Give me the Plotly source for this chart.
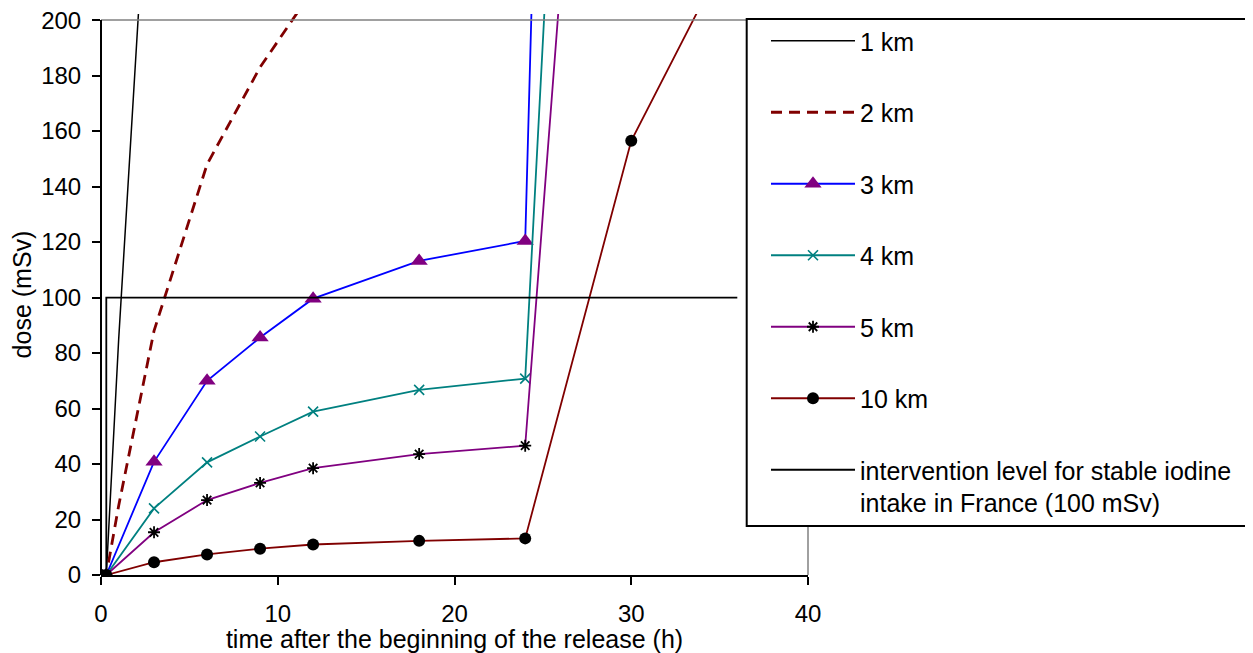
import plotly.graph_objects as go

# ---------------- data ----------------
t_1km = [0, 0.3, 1, 3]
dose_1km = [0, 0, 85, 295]

t_2km = [0, 0.3, 1, 3, 6, 9, 12]
dose_2km = [0, 0, 25, 88, 148, 183, 211]

t_std = [0, 0.3, 3, 6, 9, 12, 18, 24, 30]
dose_3km = [0, 0, 40.8, 70.0, 85.6, 99.6, 113.2, 120.4, 1520]
dose_4km = [0, 0, 24.0, 40.6, 49.9, 58.9, 66.7, 70.8, 800]
dose_5km = [0, 0, 15.4, 27.0, 33.2, 38.5, 43.6, 46.6, 547]

t_10km = [0, 0.3, 3, 6, 9, 12, 18, 24, 30, 36]
dose_10km = [0, 0, 4.6, 7.4, 9.5, 11.0, 12.3, 13.2, 156.5, 231]

t_level = [0.3, 0.3, 36]
dose_level = [0, 100, 100]

x_ticks = [0, 10, 20, 30, 40]
y_ticks = [0, 20, 40, 60, 80, 100, 120, 140, 160, 180, 200]

X_MAX = 40
Y_TOP = 200
Y_RANGE_MAX = 202.2

FONT = "Liberation Sans, Arial, sans-serif"

fig = go.Figure()

fig.add_trace(go.Scatter(x=t_1km, y=dose_1km, name="1 km", mode="lines",
                         line=dict(color="#000000", width=1.5), legendgroup="a"))
fig.add_trace(go.Scatter(x=t_2km, y=dose_2km, name="2 km", mode="lines",
                         line=dict(color="#800000", width=2.8, dash="11px,7px"), legendgroup="b"))
fig.add_trace(go.Scatter(x=t_std, y=dose_3km, name="3 km", mode="lines+markers",
                         line=dict(color="#0000FF", width=1.8),
                         marker=dict(symbol="triangle-up", size=15, color="#800080"),
                         legendgroup="c"))
fig.add_trace(go.Scatter(x=t_std, y=dose_4km, name="4 km", mode="lines+markers",
                         line=dict(color="#008080", width=1.8),
                         marker=dict(symbol="x-thin-open", size=10, color="#008080",
                                     line=dict(color="#008080", width=1.6)),
                         legendgroup="d"))
fig.add_trace(go.Scatter(x=t_std, y=dose_5km, name="5 km", mode="lines+markers",
                         line=dict(color="#800080", width=1.8),
                         marker=dict(symbol="asterisk-open", size=10, color="#000000",
                                     line=dict(color="#000000", width=1.8)),
                         legendgroup="e"))
fig.add_trace(go.Scatter(x=t_10km, y=dose_10km, name="10 km", mode="lines+markers",
                         line=dict(color="#800000", width=1.8),
                         marker=dict(symbol="circle", size=12, color="#000000"),
                         legendgroup="f"))
fig.add_trace(go.Scatter(x=t_level, y=dose_level,
                         name="intervention level for stable iodine<br>intake in France (100 mSv)",
                         mode="lines", line=dict(color="#000000", width=1.8),
                         legendgroup="g"))

# the page places the figure 8px from the top-left corner
OFF = 8
W, H = 1253 - OFF, 653 - OFF
L, T = 101 - OFF, 14 - OFF
R = W - (808 - OFF)
B = H - (575 - OFF)
plot_w = W - L - R
plot_h = H - T - B

legend_box_left = (746.7 - 101) / plot_w
legend_box_bottom = (575 - 526) / plot_h
legend_box_top = (575 - 19) / plot_h
y_top_paper = Y_TOP / Y_RANGE_MAX

shapes = [
    # grey plot border (top and right)
    dict(type="line", xref="paper", yref="paper", x0=0, x1=2.0,
         y0=y_top_paper, y1=y_top_paper, line=dict(color="#808080", width=1.5)),
    dict(type="line", xref="paper", yref="paper", x0=1, x1=1,
         y0=0, y1=y_top_paper, line=dict(color="#808080", width=1.5)),
    # black y-axis line up to 200
    dict(type="line", xref="paper", yref="paper", x0=0, x1=0,
         y0=0, y1=y_top_paper, line=dict(color="#000000", width=2)),
    # legend frame
    dict(type="rect", xref="paper", yref="paper", x0=legend_box_left, x1=2.0,
         y0=legend_box_bottom, y1=legend_box_top, fillcolor="#FFFFFF",
         line=dict(color="#000000", width=2)),
]

fig.update_layout(
    width=W, height=H,
    margin=dict(l=L, r=R, t=T, b=B, autoexpand=False),
    paper_bgcolor="#FFFFFF", plot_bgcolor="#FFFFFF",
    font=dict(family=FONT, size=24, color="#000000"),
    showlegend=True,
    legend=dict(
        x=(766 - 101) / plot_w, xanchor="left",
        y=(575 - 18) / plot_h, yanchor="top",
        bgcolor="rgba(0,0,0,0)", borderwidth=0,
        font=dict(family=FONT, size=25, color="#000000"),
        traceorder="grouped", tracegroupgap=36,
        itemwidth=84, valign="top",
    ),
    shapes=shapes,
    xaxis=dict(
        range=[0, X_MAX], tickvals=x_ticks, ticktext=[str(v) for v in x_ticks],
        ticks="outside", ticklen=8, tickwidth=2, tickcolor="#000000",
        showline=True, linecolor="#000000", linewidth=2,
        showgrid=False, zeroline=False, ticklabelstandoff=8,
        ticklabeloverflow="allow",
        title=dict(text="time after the beginning of the release (h)",
                   font=dict(family=FONT, size=25), standoff=0),
    ),
    yaxis=dict(
        range=[0, Y_RANGE_MAX], tickvals=y_ticks, ticktext=[str(v) for v in y_ticks],
        ticks="outside", ticklen=8, tickwidth=2, tickcolor="#000000",
        showline=False, showgrid=False, zeroline=False, ticklabelstandoff=6,
        ticklabeloverflow="allow",
        title=dict(text="dose (mSv)", font=dict(family=FONT, size=25), standoff=5),
    ),
    xaxis2=dict(
        overlaying="x", anchor="y", side="bottom", range=[0, X_MAX], tickvals=x_ticks,
        ticks="inside", ticklen=8, tickwidth=2, tickcolor="#000000",
        showticklabels=False, showline=False, showgrid=False, zeroline=False,
    ),
    yaxis2=dict(
        overlaying="y", anchor="x", side="left", range=[0, Y_RANGE_MAX], tickvals=y_ticks,
        ticks="inside", ticklen=7, tickwidth=2, tickcolor="#000000",
        showticklabels=False, showline=False, showgrid=False, zeroline=False,
    ),
)

fig.write_html("out.html")
